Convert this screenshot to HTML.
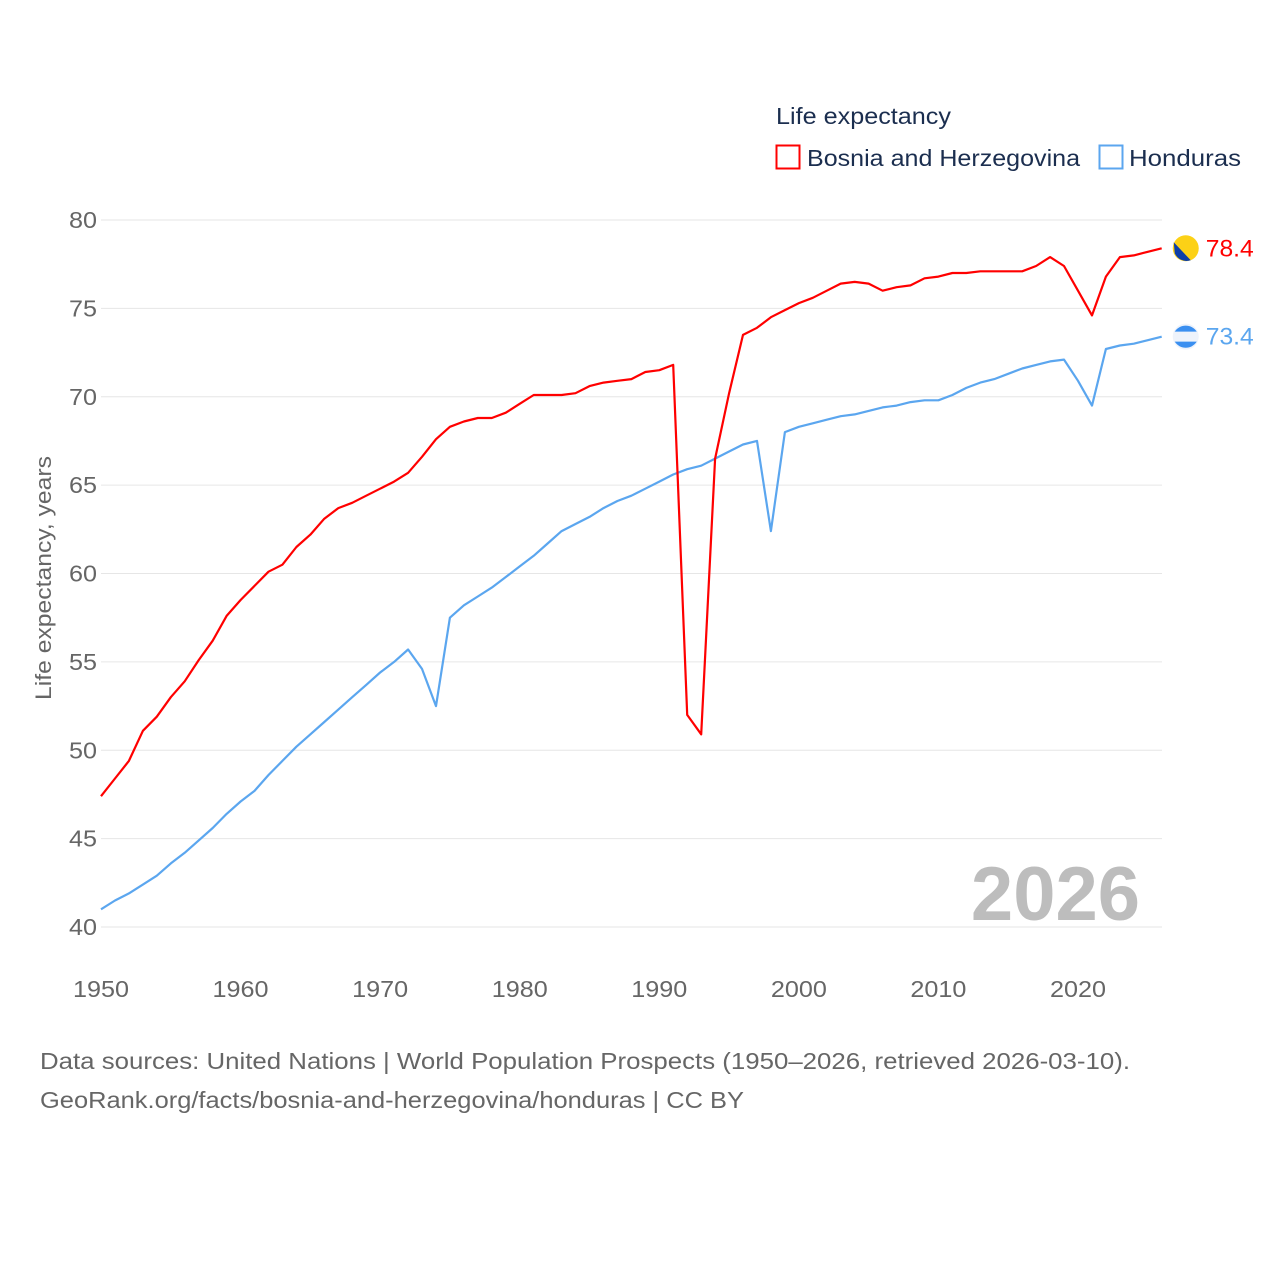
<!DOCTYPE html>
<html><head><meta charset="utf-8"><style>
body{margin:0;background:#fff;}
svg{display:block;font-family:"Liberation Sans",sans-serif;}
</style></head><body>
<svg id="chart" width="1280" height="1280" viewBox="0 0 1280 1280">
<text x="776" y="124" font-size="23" fill="#1b2e4f" textLength="175" lengthAdjust="spacingAndGlyphs">Life expectancy</text>
<g><rect x="776.5" y="145.5" width="23" height="23" fill="none" stroke="#ff0000" stroke-width="2"/><text x="807" y="166" font-size="23" fill="#1b2e4f" textLength="273" lengthAdjust="spacingAndGlyphs">Bosnia and Herzegovina</text></g>
<g><rect x="1099.5" y="145.5" width="23" height="23" fill="none" stroke="#5ba6ef" stroke-width="2"/><text x="1129" y="166" font-size="23" fill="#1b2e4f" textLength="112" lengthAdjust="spacingAndGlyphs">Honduras</text></g>
<g id="grid"></g>
<g id="yticks"></g>
<g id="xticks"></g>
<text transform="translate(51,578) rotate(-90)" text-anchor="middle" font-size="22" fill="#666" textLength="244" lengthAdjust="spacingAndGlyphs">Life expectancy, years</text>
<text x="1140" y="920" text-anchor="end" font-size="76" font-weight="bold" fill="#bdbdbd">2026</text>
<g id="series"></g>
<text x="40" y="1069" font-size="23" fill="#666" textLength="1090" lengthAdjust="spacingAndGlyphs">Data sources: United Nations | World Population Prospects (1950–2026, retrieved 2026-03-10).</text>
<text x="40" y="1108" font-size="23" fill="#666" textLength="704" lengthAdjust="spacingAndGlyphs">GeoRank.org/facts/bosnia-and-herzegovina/honduras | CC BY</text>
</svg>
<script>
const years=[];for(let y=1950;y<=2026;y++)years.push(y);
const bosnia=[47.4,48.4,49.4,51.1,51.9,53.0,53.9,55.1,56.2,57.6,58.5,59.3,60.1,60.5,61.5,62.2,63.1,63.7,64.0,64.4,64.8,65.2,65.7,66.6,67.6,68.3,68.6,68.8,68.8,69.1,69.6,70.1,70.1,70.1,70.2,70.6,70.8,70.9,71.0,71.4,71.5,71.8,52.0,50.9,66.5,70.2,73.5,73.9,74.5,74.9,75.3,75.6,76.0,76.4,76.5,76.4,76.0,76.2,76.3,76.7,76.8,77.0,77.0,77.1,77.1,77.1,77.1,77.4,77.9,77.4,76.0,74.6,76.8,77.9,78.0,78.2,78.4];
const honduras=[41.0,41.5,41.9,42.4,42.9,43.6,44.2,44.9,45.6,46.4,47.1,47.7,48.6,49.4,50.2,50.9,51.6,52.3,53.0,53.7,54.4,55.0,55.7,54.6,52.5,57.5,58.2,58.7,59.2,59.8,60.4,61.0,61.7,62.4,62.8,63.2,63.7,64.1,64.4,64.8,65.2,65.6,65.9,66.1,66.5,66.9,67.3,67.5,62.4,68.0,68.3,68.5,68.7,68.9,69.0,69.2,69.4,69.5,69.7,69.8,69.8,70.1,70.5,70.8,71.0,71.3,71.6,71.8,72.0,72.1,70.9,69.5,72.7,72.9,73.0,73.2,73.4];
const yTicks=[40,45,50,55,60,65,70,75,80];
const xTicks=[1950,1960,1970,1980,1990,2000,2010,2020];
const NS="http://www.w3.org/2000/svg";
const X=v=>101+(v-1950)*(1078-101)/70;
const Y=v=>927-(v-40)*(927-220)/40;
function mk(t,a,p){const e=document.createElementNS(NS,t);for(const k in a)e.setAttribute(k,a[k]);p.appendChild(e);return e;}
const grid=document.getElementById('grid'),yt=document.getElementById('yticks'),xt=document.getElementById('xticks'),ser=document.getElementById('series');
yTicks.forEach(v=>{
 const l=mk('line',{x1:101,x2:1162,y1:Y(v),y2:Y(v),stroke:'#e6e6e6','stroke-width':1},grid);
 
 
 const t=mk('text',{x:97,y:Y(v)+8,'text-anchor':'end','font-size':23,fill:'#666',textLength:28,lengthAdjust:'spacingAndGlyphs'},yt);t.textContent=v;
 
 
});
xTicks.forEach(v=>{
 const t=mk('text',{x:X(v),y:997,'text-anchor':'middle','font-size':23,fill:'#666',textLength:56,lengthAdjust:'spacingAndGlyphs'},xt);t.textContent=v;
 
 
});
function line(vals,color,name){
 const d=vals.map((v,i)=>(i?'L':'M')+X(years[i]).toFixed(1)+' '+Y(v).toFixed(1)).join(' ');
 const p=mk('path',{d:d,fill:'none',stroke:color,'stroke-width':2.2,'stroke-linejoin':'round'},ser);
 
 
 const lx=X(years[years.length-1]),ly=Y(vals[vals.length-1]);
 const c=mk('circle',{cx:lx+24,cy:ly,r:13,fill:name==='bosnia'?'#fcd116':'#eef3fb'},ser);
 
 
 if(name==='bosnia'){mk('path',{d:`M${lx+12} ${ly-6} L${lx+29} ${ly+12} A13 13 0 0 1 ${lx+13} ${ly+5} Z`,fill:'#0d3ea8'},ser);}
 else{mk('path',{d:`M${lx+13} ${ly-5} A13 13 0 0 1 ${lx+35} ${ly-5} Z`,fill:'#3a8ff0'},ser);mk('path',{d:`M${lx+13} ${ly+5} A13 13 0 0 0 ${lx+35} ${ly+5} Z`,fill:'#3a8ff0'},ser);}
 const t=mk('text',{x:lx+44,y:ly+8,'font-size':24,fill:color,textLength:48,lengthAdjust:'spacingAndGlyphs'},ser);t.textContent=vals[vals.length-1].toFixed(1);
 
 
}
line(honduras,'#5ba6ef','honduras');
line(bosnia,'#ff0000','bosnia');
</script>
</body></html>
